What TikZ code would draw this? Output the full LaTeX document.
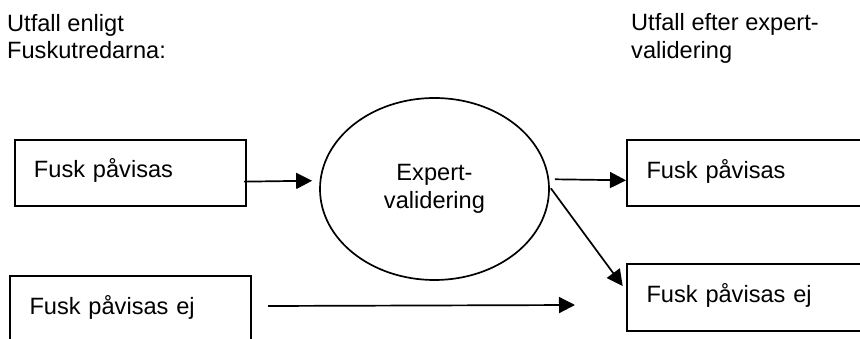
\documentclass[tikz,border=0pt]{standalone}
\usepackage{fontspec}
\setmainfont{Liberation Sans}
\usetikzlibrary{arrows.meta,shapes.geometric}
\begin{document}
\begin{tikzpicture}[x=1pt,y=-1pt,
  every node/.style={font=\fontsize{23.6}{27.5}\selectfont},
  box/.style={draw,line width=2pt,anchor=north west,minimum height=66.5pt,
    inner xsep=19.5pt,inner ysep=0pt,align=left,text height=17pt,text depth=7pt},
  hdr/.style={anchor=base west,inner sep=0pt,align=left},
  arr/.style={line width=1.7pt,-{Triangle[length=16pt,width=16pt]}}]
\useasboundingbox (0,0) rectangle (860,339);
\clip (0,0) rectangle (860,339);

% column headings (base anchor sits on the last line)
\node[hdr] (lefthdr) at (7,59) {Utfall enligt\\Fuskutredarna:};
\node[hdr] (righthdr) at (631,58.5) {Utfall efter expert-\\validering};

% outcome boxes
\node[box,text width=192.5pt] (tl) at (13.5,138.7) {Fusk påvisas};
\node[box,text width=202pt] (bl) at (9,275) {Fusk påvisas ej};
\node[box,text width=201pt] (tr) at (626,139) {Fusk påvisas};
\node[box,text width=201pt] (br) at (626,263) {Fusk påvisas ej};

% validation step
\node[draw,ellipse,line width=1.7pt,minimum width=229pt,minimum height=182pt,
  inner sep=0pt,align=center] (ell) at (434.5,189) {Expert-\\validering};

\coordinate (gap) at (575,305);

% connectors
\draw[arr] ([shift={(-3,8.7)}]tl.east) -- ([shift={(-7,-8.3)}]ell.west);
\draw[arr] ([shift={(5,-9.7)}]ell.east) -- ([shift={(0,7.05)}]tr.west);
\draw[arr] ([shift={(1,-0.7)}]ell.east) -- ([shift={(-3.3,-11.25)}]br.west);
\draw[arr] ([shift={(16,-3.25)}]bl.east) -- (gap);
\end{tikzpicture}
\end{document}
